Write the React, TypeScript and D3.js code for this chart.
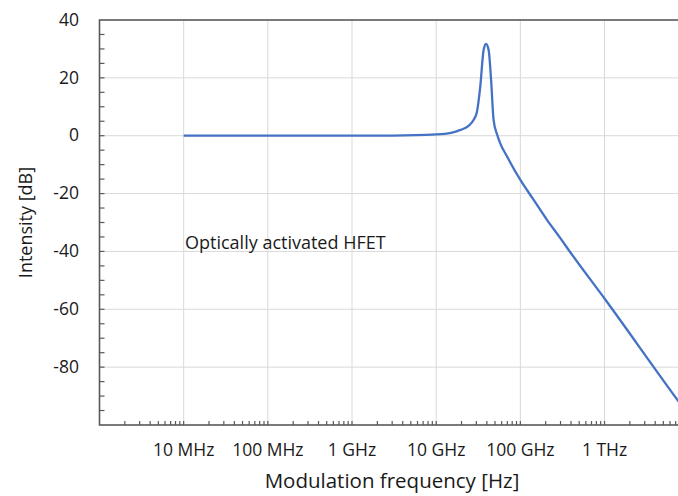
import React, { useEffect, useRef } from "react";
import * as d3 from "d3";

// frequency (Hz) and response (dB)
const freqHz = [
  1e7, 1e8, 1e9, 3e9, 1e10, 1.5e10, 1.94e10, 2.4e10, 2.79e10, 3.05e10,
  3.34e10, 3.66e10, 3.91e10, 4.2e10, 4.49e10, 4.81e10, 5.28e10, 5.8e10,
  6.95e10, 1e11, 1.44e11, 2.07e11, 3e11, 3.75e11, 1.03e12, 7.6e12, 1e13
];
const intensityDb = [
  0, 0, 0, 0.05, 0.45, 1.0, 2.0, 3.3, 5.5, 8.3,
  17, 29.6, 31.7, 29.6, 19.3, 5.4, 0.5, -2.8,
  -7.2, -15.3, -22.2, -29.1, -35.5, -39.5, -56.8, -91.9, -96.6
];

const xTickValues = [1e7, 1e8, 1e9, 1e10, 1e11, 1e12];
const xTickLabels = ["10 MHz", "100 MHz", "1 GHz", "10 GHz", "100 GHz", "1 THz"];
const yTickValues = [40, 20, 0, -20, -40, -60, -80];

const W = 678;
const H = 496;
const margin = { top: 20, left: 99.5, bottom: 71 };
const plotRight = 688.7;
const font = "'Open Sans', sans-serif";

export default function App() {
  const ref = useRef<SVGSVGElement>(null);

  useEffect(() => {
    const svg = d3.select(ref.current);
    svg.selectAll("*").remove();

    const x = d3.scaleLog().domain([1e6, 1e13]).range([margin.left, plotRight]);
    const y = d3.scaleLinear().domain([-100, 40]).range([H - margin.bottom, margin.top]);
    const x0 = margin.left;
    const y0 = H - margin.bottom;

    const grid = svg.append("g").attr("stroke", "#d9d9d9").attr("stroke-width", 1);
    grid
      .selectAll("line.v")
      .data(xTickValues)
      .join("line")
      .attr("x1", d => x(d))
      .attr("x2", d => x(d))
      .attr("y1", margin.top)
      .attr("y2", y0);
    grid
      .selectAll("line.h")
      .data(yTickValues.filter(d => d < 40))
      .join("line")
      .attr("x1", x0)
      .attr("x2", plotRight)
      .attr("y1", d => y(d))
      .attr("y2", d => y(d));

    // minor ticks on x
    const xMinor: number[] = [];
    for (let e = 6; e < 13; e++) {
      for (let k = 1; k <= 9; k++) {
        const v = k * Math.pow(10, e);
        if (v > 1e6) xMinor.push(v);
      }
    }
    const ax = svg.append("g").attr("stroke", "#595959").attr("stroke-width", 1.2);
    ax.selectAll("line.xt")
      .data(xMinor)
      .join("line")
      .attr("x1", d => x(d))
      .attr("x2", d => x(d))
      .attr("y1", y0)
      .attr("y2", y0 - 4);
    ax.selectAll("line.yt")
      .data(d3.range(-95, 40, 5))
      .join("line")
      .attr("x1", x0)
      .attr("x2", x0 + 5)
      .attr("y1", d => y(d))
      .attr("y2", d => y(d));

    svg
      .append("rect")
      .attr("x", x0)
      .attr("y", margin.top)
      .attr("width", plotRight - x0)
      .attr("height", y0 - margin.top)
      .attr("fill", "none")
      .attr("stroke", "#595959")
      .attr("stroke-width", 1.6);

    const pts = freqHz.map((f, i) => [f, intensityDb[i]] as [number, number]);
    const line = d3
      .line<[number, number]>()
      .x(d => x(d[0]))
      .y(d => y(d[1]))
      .curve(d3.curveMonotoneX);
    svg
      .append("path")
      .datum(pts)
      .attr("fill", "none")
      .attr("stroke", "#4472c4")
      .attr("stroke-width", 2.3)
      .attr("stroke-linejoin", "round")
      .attr("d", line);

    const txt = svg.append("g").attr("font-family", font).attr("fill", "#1a1a1a");
    txt
      .selectAll("text.yl")
      .data(yTickValues)
      .join("text")
      .attr("x", 79)
      .attr("y", d => y(d) + 1)
      .attr("text-anchor", "end")
      .attr("dominant-baseline", "middle")
      .attr("font-size", 17.5)
      .text(d => String(d));
    txt
      .selectAll("text.xl")
      .data(xTickValues)
      .join("text")
      .attr("x", d => x(d))
      .attr("y", 451)
      .attr("text-anchor", "middle")
      .attr("dominant-baseline", "middle")
      .attr("font-size", 17.5)
      .text((d, i) => xTickLabels[i]);

    txt
      .append("text")
      .attr("x", 392)
      .attr("y", 483)
      .attr("text-anchor", "middle")
      .attr("dominant-baseline", "middle")
      .attr("font-size", 20.5)
      .text("Modulation frequency [Hz]");
    txt
      .append("text")
      .attr("transform", `translate(27,${(margin.top + y0) / 2}) rotate(-90)`)
      .attr("text-anchor", "middle")
      .attr("dominant-baseline", "middle")
      .attr("font-size", 18)
      .text("Intensity [dB]");
    txt
      .append("text")
      .attr("x", 185)
      .attr("y", 244)
      .attr("dominant-baseline", "middle")
      .attr("font-size", 18)
      .text("Optically activated HFET");
  }, []);

  return (
    <svg
      ref={ref}
      width={W}
      height={H}
      style={{ position: "absolute", left: 0, top: 0, background: "#fff" }}
    />
  );
}
